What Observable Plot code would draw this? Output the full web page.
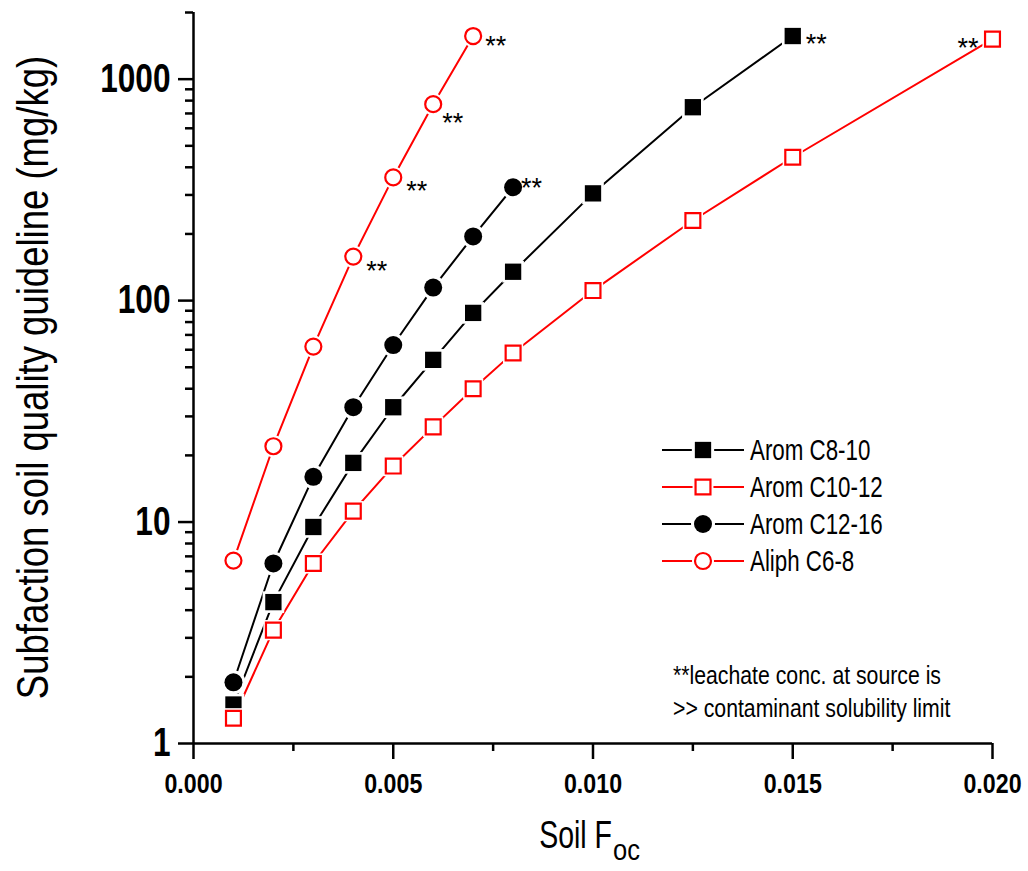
<!DOCTYPE html>
<html><head><meta charset="utf-8">
<script src="https://cdn.jsdelivr.net/npm/d3@7"></script>
<script src="https://cdn.jsdelivr.net/npm/@observablehq/plot@0.6"></script>
<style>
html,body{margin:0;padding:0;background:#fff;}
#chart svg{display:block;}
</style></head><body><div id="chart"></div>
<script>
// ---------- data ----------
const seriesNames = ["Arom C8-10", "Arom C10-12", "Arom C12-16", "Aliph C6-8"];

const focC8_10   = [0.001, 0.002, 0.003, 0.004, 0.005, 0.006, 0.007, 0.008, 0.010, 0.0125, 0.015];
const sqgC8_10   = [1.5, 4.35, 9.5, 18.5, 33, 54, 88, 135, 305, 747, 1566];

const focC10_12  = [0.001, 0.002, 0.003, 0.004, 0.005, 0.006, 0.007, 0.008, 0.010, 0.0125, 0.015, 0.020];
const sqgC10_12  = [1.3, 3.25, 6.5, 11.2, 17.9, 26.9, 40, 58, 111, 230, 444, 1517];

const focC12_16  = [0.001, 0.002, 0.003, 0.004, 0.005, 0.006, 0.007, 0.008];
const sqgC12_16  = [1.89, 6.5, 16.0, 33, 63, 114.5, 195, 325];

const focC6_8    = [0.001, 0.002, 0.003, 0.004, 0.005, 0.006, 0.007];
const sqgC6_8    = [6.7, 22, 62, 158, 360, 771, 1566];

// points flagged with "**"
const starSeries = ["Aliph C6-8", "Aliph C6-8", "Aliph C6-8", "Aliph C6-8", "Arom C12-16", "Arom C8-10", "Arom C10-12"];
const starFoc    = [0.004, 0.005, 0.006, 0.007, 0.008, 0.015, 0.020];

const xTicks = [0, 0.005, 0.010, 0.015, 0.020];
const xMinor = [0.0025, 0.0075, 0.0125, 0.0175];
const yTicks = [1, 10, 100, 1000];
const noteLines = ["**leachate conc. at source is", ">> contaminant solubility limit"];
const yTitle = "Subfaction soil quality guideline (mg/kg)";
const xTitleMain = "Soil F";
const xTitleSub = "oc";

// ---------- build ----------
const FONT = '"Liberation Sans",Arial,sans-serif';
const RED = "#ff0000", BLACK = "#000000";
const style = {
  "Arom C8-10":  {x: focC8_10,  y: sqgC8_10,  color: BLACK, symbol: "square", filled: true},
  "Arom C10-12": {x: focC10_12, y: sqgC10_12, color: RED,   symbol: "square", filled: false},
  "Arom C12-16": {x: focC12_16, y: sqgC12_16, color: BLACK, symbol: "circle", filled: true},
  "Aliph C6-8":  {x: focC6_8,   y: sqgC6_8,   color: RED,   symbol: "circle", filled: false}
};
function rows(name) {
  const s = style[name];
  return s.x.map((x, i) => ({series: name, foc: x, sqg: s.y[i]}));
}
function markerR(s) {
  if (s.symbol === "square") return s.filled ? 9.2 : 8.4;
  return s.filled ? 9 : 8;
}
const yMinor = [];
for (const d of [1, 10, 100, 1000]) for (let k = 2; k <= 9; k++) if (d * k <= 2000) yMinor.push(d * k);

const marks = [];
for (const name of seriesNames) {
  const s = style[name];
  marks.push(Plot.line(rows(name), {x: "foc", y: "sqg", stroke: s.color, strokeWidth: 2}));
}
for (const name of seriesNames) {
  const s = style[name];
  const r = markerR(s);
  marks.push(Plot.dot(rows(name), {x: "foc", y: "sqg", symbol: s.symbol, r: r + 3, fill: "white", stroke: "none"}));
  marks.push(Plot.dot(rows(name), {
    x: "foc", y: "sqg", symbol: s.symbol, r,
    fill: s.filled ? s.color : "white",
    stroke: s.filled ? "none" : s.color,
    strokeWidth: 2.2
  }));
}
// star annotations
const starRows = starSeries.map((n, i) => {
  const s = style[n];
  const j = s.x.indexOf(starFoc[i]);
  return {series: n, foc: starFoc[i], sqg: s.y[j]};
});
const starOffsets = [[13, 15], [13, 14], [9, 19], [12, 10], [8, 1], [13, 8], [-14, 9]];
starRows.forEach((d, k) => {
  const [dx, dy] = starOffsets[k];
  marks.push(Plot.text([d], {
    x: "foc", y: "sqg", text: () => "**", dx, dy,
    textAnchor: dx < 0 ? "end" : "start", fontSize: 27, fill: BLACK
  }));
});
// axes
marks.push(Plot.ruleX([0], {strokeWidth: 2.5}));
marks.push(Plot.ruleY([1], {strokeWidth: 2.5}));
marks.push(Plot.axisX({ticks: xTicks, tickSize: 16, tickPadding: 14, strokeWidth: 2.5,
  tickFormat: d3.format(".3f"), fontSize: 27, fontWeight: "bold", label: null}));
marks.push(Plot.axisX({ticks: xMinor, tickSize: 8, strokeWidth: 2.5, tickFormat: () => "", label: null}));
marks.push(Plot.axisY({ticks: yTicks, tickSize: 15, tickPadding: 8, strokeWidth: 2.5,
  tickFormat: d3.format("d"), fontSize: 40, fontWeight: "bold", label: null}));
marks.push(Plot.axisY({ticks: yMinor, tickSize: 8, strokeWidth: 2.5, tickFormat: () => "", label: null}));

const plot = Plot.plot({
  width: 1028, height: 871,
  marginLeft: 193, marginRight: 36, marginTop: 12, marginBottom: 128,
  x: {domain: [0, 0.020]},
  y: {type: "log", domain: [1, 2000]},
  style: {fontFamily: FONT, color: "black", background: "white", overflow: "visible"},
  marks
});
document.getElementById("chart").appendChild(plot);

// ---------- titles, legend, note ----------
const svg = d3.select(plot);
// horizontal condensing (the original face is a narrow sans)
function narrow(sel, f) {
  sel.each(function() {
    const t = this.getAttribute("transform") || "";
    this.setAttribute("transform", `${t} scale(${f},1)`);
  });
}
narrow(svg.selectAll('g[aria-label="y-axis tick label"] text'), 0.79);
narrow(svg.selectAll('g[aria-label="x-axis tick label"] text'), 0.86);

function addText(parent, x, y, txt, size, anchor, f, extra = "") {
  return parent.append("text")
    .attr("transform", `translate(${x},${y}) ${extra} scale(${f},1)`)
    .attr("text-anchor", anchor).attr("font-size", size).attr("fill", BLACK)
    .style("font-family", FONT).text(txt);
}

const cy = (12 + 743) / 2;
addText(svg, 48, cy, yTitle, 44, "middle", 0.83, "rotate(-90)");
addText(svg, 612, 848, xTitleMain, 38, "end", 0.75);
addText(svg, 613, 860, xTitleSub, 30, "start", 0.85);

const lg = svg.append("g");
seriesNames.forEach((name, k) => {
  const s = style[name];
  const y = 450 + k * 37;
  lg.append("line").attr("x1", 662).attr("x2", 744).attr("y1", y).attr("y2", y)
    .attr("stroke", s.color).attr("stroke-width", 2);
  const r = markerR(s);
  const sym = d3.symbol(s.symbol === "square" ? d3.symbolSquare : d3.symbolCircle, Math.PI * r * r);
  lg.append("path").attr("transform", `translate(703,${y})`).attr("d", sym())
    .attr("fill", "white").attr("stroke", "white").attr("stroke-width", 6);
  lg.append("path").attr("transform", `translate(703,${y})`).attr("d", sym())
    .attr("fill", s.filled ? s.color : "white")
    .attr("stroke", s.filled ? "none" : s.color).attr("stroke-width", 2.2);
  addText(lg, 750, y + 10, name, 29, "start", 0.77);
});
noteLines.forEach((t, k) => {
  addText(svg, 673, 684 + k * 33, t, 25, "start", 0.85);
});
</script></body></html>
